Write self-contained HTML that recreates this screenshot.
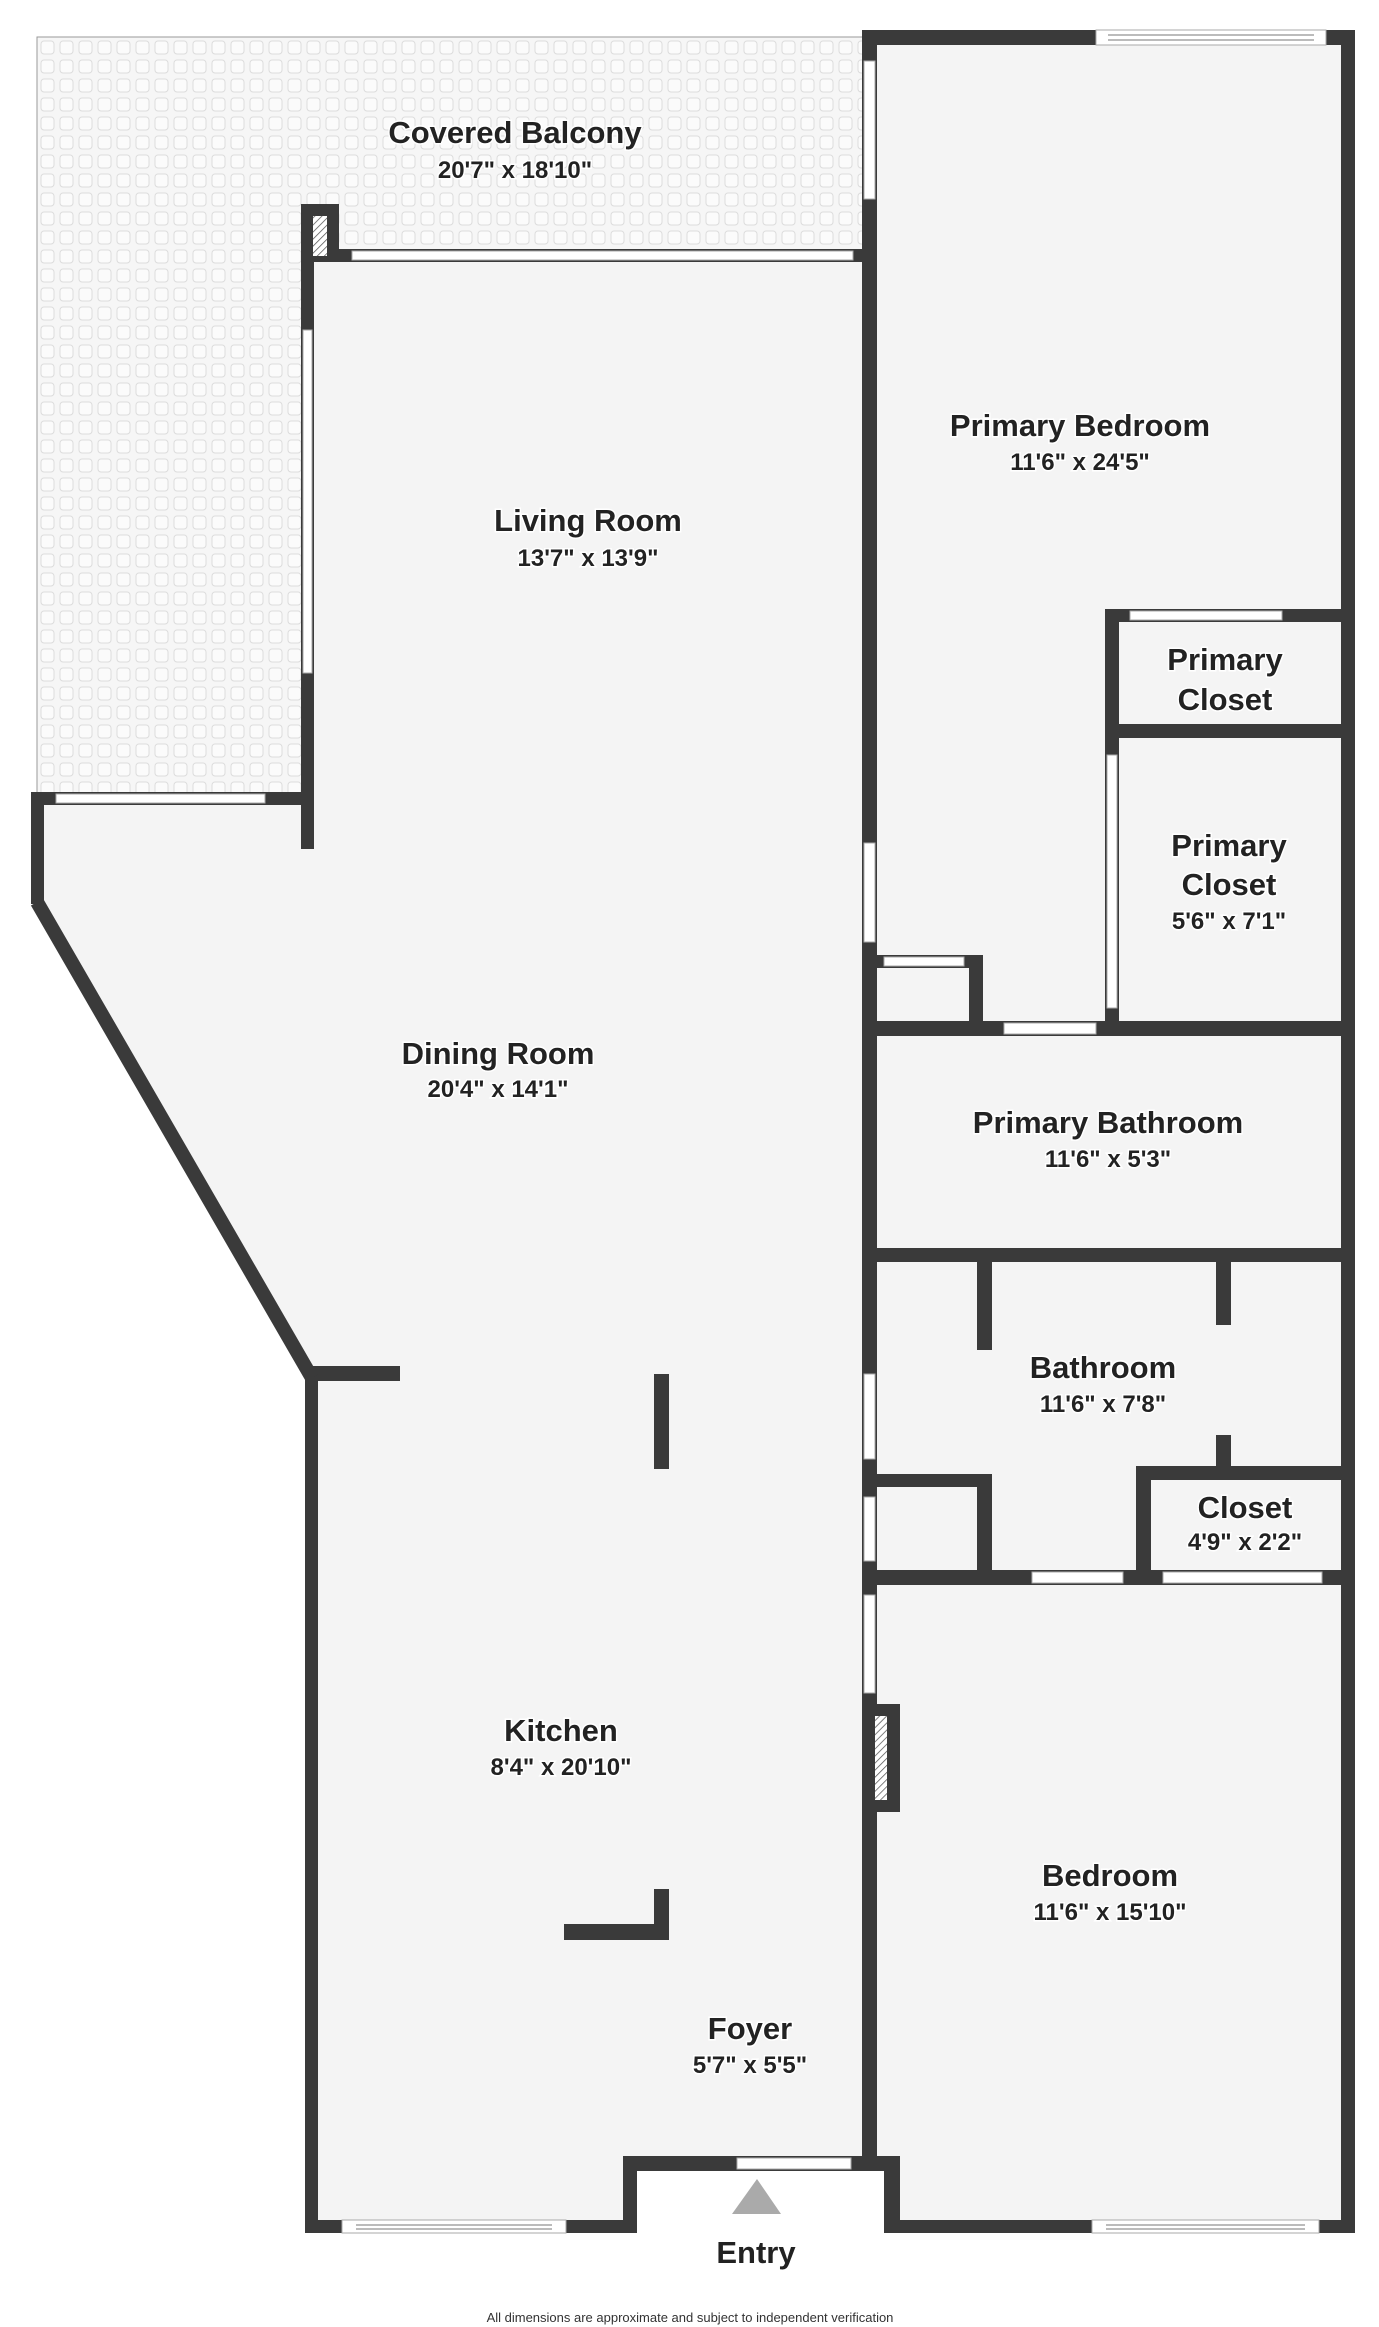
<!DOCTYPE html>
<html><head><meta charset="utf-8"><style>
html,body{margin:0;padding:0;background:#fff}
svg{display:block}
text{font-family:"Liberation Sans",sans-serif;font-weight:bold;fill:#222;text-anchor:middle;paint-order:stroke;stroke:#fff;stroke-width:3px}
.n{font-size:31px}.d{font-size:24px}
.f{font-size:13px;font-weight:normal;stroke:none;fill:#333}
</style></head><body>
<svg width="1379" height="2327" viewBox="0 0 1379 2327" xmlns="http://www.w3.org/2000/svg">
<defs>
<pattern id="tile" width="19" height="19" patternUnits="userSpaceOnUse">
<rect width="19" height="19" fill="#f6f6f6"/>
<rect x="3" y="3" width="13" height="13" rx="3" fill="#fbfbfb" stroke="#dcdcdc" stroke-width="1"/>
</pattern>
<pattern id="hatch" width="5" height="5" patternUnits="userSpaceOnUse" patternTransform="rotate(45)">
<rect width="5" height="5" fill="#fff"/><line x1="0" y1="0" x2="0" y2="5" stroke="#555" stroke-width="1.5"/>
</pattern>
</defs>
<polygon points="37,37 870,37 870,255 308,255 308,798 37,798" fill="url(#tile)" stroke="#999" stroke-width="1"/>
<polygon points="37,798 308,798 308,255 870,255 870,38 1348,38 1348,2226 893,2226 893,2163 630,2163 630,2226 312,2226 312,1381 37,904" fill="#f4f4f4"/>
<g fill="#3a3a3a">
<rect x="862" y="30" width="493" height="15"/>
<rect x="1341" y="30" width="14" height="2203"/>
<rect x="862" y="30" width="15" height="2141"/>
<rect x="301" y="249" width="571" height="13"/>
<rect x="301" y="204" width="38" height="58"/>
<rect x="301" y="249" width="13" height="600"/>
<rect x="31" y="792" width="283" height="13"/>
<rect x="31" y="792" width="13" height="112"/>
<rect x="305" y="1366" width="13" height="867"/>
<rect x="305" y="1366" width="95" height="15"/>
<rect x="654" y="1374" width="15" height="95"/>
<rect x="564" y="1924" width="105" height="16"/>
<rect x="654" y="1889" width="15" height="51"/>
<rect x="305" y="2220" width="332" height="13"/>
<rect x="623" y="2156" width="14" height="77"/>
<rect x="623" y="2156" width="248" height="15"/>
<rect x="862" y="2156" width="38" height="15"/>
<rect x="884" y="2156" width="16" height="77"/>
<rect x="884" y="2220" width="471" height="13"/>
<rect x="1105" y="609" width="250" height="13"/>
<rect x="1105" y="609" width="14" height="427"/>
<rect x="1105" y="724" width="250" height="14"/>
<rect x="862" y="955" width="119" height="13"/>
<rect x="969" y="955" width="14" height="81"/>
<rect x="862" y="1021" width="493" height="15"/>
<rect x="862" y="1248" width="493" height="14"/>
<rect x="977" y="1262" width="15" height="88"/>
<rect x="1216" y="1262" width="15" height="63"/>
<rect x="1216" y="1435" width="15" height="40"/>
<rect x="1136" y="1466" width="219" height="14"/>
<rect x="1136" y="1466" width="15" height="119"/>
<rect x="862" y="1474" width="130" height="13"/>
<rect x="977" y="1474" width="15" height="111"/>
<rect x="862" y="1570" width="493" height="15"/>
<rect x="862" y="1704" width="38" height="108"/>
</g>
<line x1="37" y1="902" x2="312" y2="1378" stroke="#3a3a3a" stroke-width="14"/>
<rect x="313" y="216" width="14" height="40" fill="url(#hatch)"/>
<rect x="875" y="1716" width="12" height="84" fill="url(#hatch)"/>
<g fill="#fff" stroke="#aaa" stroke-width="1">
<rect x="1096" y="30" width="230" height="15"/>
<rect x="352" y="251" width="501" height="9"/>
<rect x="303" y="330" width="9" height="343"/>
<rect x="56" y="794" width="209" height="9"/>
<rect x="864" y="61" width="11" height="138"/>
<rect x="864" y="843" width="11" height="99"/>
<rect x="864" y="1374" width="11" height="85"/>
<rect x="864" y="1497" width="11" height="64"/>
<rect x="864" y="1595" width="11" height="98"/>
<rect x="1130" y="611" width="152" height="9"/>
<rect x="1107" y="755" width="10" height="253"/>
<rect x="884" y="957" width="80" height="9"/>
<rect x="1004" y="1023" width="92" height="11"/>
<rect x="1032" y="1572" width="91" height="11"/>
<rect x="1163" y="1572" width="159" height="11"/>
<rect x="342" y="2220" width="224" height="13"/>
<rect x="737" y="2158" width="114" height="11"/>
<rect x="1092" y="2220" width="227" height="13"/>
</g>
<g stroke="#777" stroke-width="1">
<line x1="1108" y1="35" x2="1314" y2="35"/><line x1="1108" y1="40" x2="1314" y2="40"/>
<line x1="356" y1="2225" x2="552" y2="2225"/><line x1="356" y1="2229" x2="552" y2="2229"/>
<line x1="1106" y1="2225" x2="1305" y2="2225"/><line x1="1106" y1="2229" x2="1305" y2="2229"/>
</g>
<polygon points="757,2179 781,2214 732,2214" fill="#aaa"/>
<text class="n" x="515" y="143">Covered Balcony</text><text class="d" x="515" y="178">20'7" x 18'10"</text>
<text class="n" x="588" y="531">Living Room</text><text class="d" x="588" y="566">13'7" x 13'9"</text>
<text class="n" x="1080" y="436">Primary Bedroom</text><text class="d" x="1080" y="470">11'6" x 24'5"</text>
<text class="n" x="1225" y="670">Primary</text><text class="n" x="1225" y="710">Closet</text>
<text class="n" x="1229" y="856">Primary</text><text class="n" x="1229" y="895">Closet</text><text class="d" x="1229" y="929">5'6" x 7'1"</text>
<text class="n" x="498" y="1064">Dining Room</text><text class="d" x="498" y="1097">20'4" x 14'1"</text>
<text class="n" x="1108" y="1133">Primary Bathroom</text><text class="d" x="1108" y="1167">11'6" x 5'3"</text>
<text class="n" x="1103" y="1378">Bathroom</text><text class="d" x="1103" y="1412">11'6" x 7'8"</text>
<text class="n" x="1245" y="1518">Closet</text><text class="d" x="1245" y="1550">4'9" x 2'2"</text>
<text class="n" x="561" y="1741">Kitchen</text><text class="d" x="561" y="1775">8'4" x 20'10"</text>
<text class="n" x="1110" y="1886">Bedroom</text><text class="d" x="1110" y="1920">11'6" x 15'10"</text>
<text class="n" x="750" y="2039">Foyer</text><text class="d" x="750" y="2073">5'7" x 5'5"</text>
<text class="n" x="756" y="2263">Entry</text>
<text class="f" x="690" y="2322">All dimensions are approximate and subject to independent verification</text>
</svg>
</body></html>
